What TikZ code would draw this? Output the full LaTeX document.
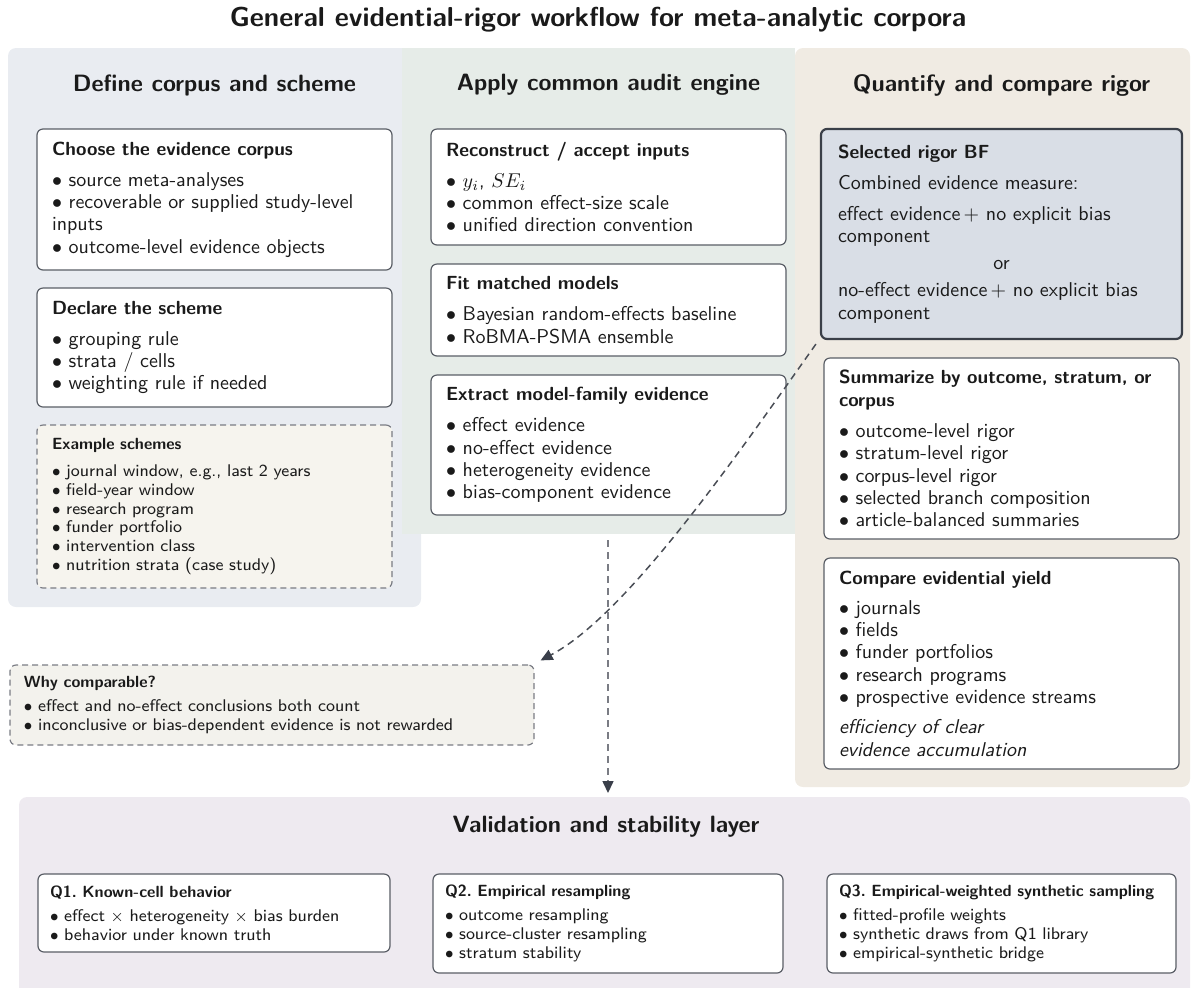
\documentclass[tikz,border=0pt]{standalone}
\usetikzlibrary{arrows.meta,calc}
\renewcommand\familydefault{\sfdefault}
\definecolor{leftbg}{HTML}{E9ECF1}
\definecolor{midbg}{HTML}{E6ECE8}
\definecolor{rightbg}{HTML}{F0EBE3}
\definecolor{botbg}{HTML}{EEEAF0}
\definecolor{boxline}{HTML}{5A5E66}
\definecolor{bfbg}{HTML}{D9DEE6}
\definecolor{bfline}{HTML}{3A3F48}
\definecolor{examplebg}{HTML}{F6F4EE}
\definecolor{whybg}{HTML}{F3F2ED}
\definecolor{dashgray}{HTML}{7A7C84}
\definecolor{dashdark}{HTML}{4A4E56}
\definecolor{arrowc}{HTML}{3A3F4A}
\definecolor{textc}{HTML}{1A1A1A}
\newcommand\bodyf{\fontsize{10}{11.15}\selectfont\frenchspacing}
\newcommand\smallf{\fontsize{8.45}{9.4}\selectfont\frenchspacing}
\newcommand\btf{\fontsize{9.5}{11.15}\selectfont\bfseries}
\newcommand\sbtf{\fontsize{8.1}{9.4}\selectfont\bfseries}
\newcommand\coltitlef{\fontsize{11.8}{13.5}\selectfont\bfseries}
\newcommand\maintitlef{\fontsize{13.7}{15}\selectfont\bfseries}
\newcommand\bul{$\bullet$\ }
\begin{document}
\begin{tikzpicture}[x=0.5pt,y=-0.5pt,
  panel/.style={draw=none, rounded corners=4pt, inner sep=0pt, outer sep=0pt},
  coltitle/.style={font=\coltitlef, text=textc, inner sep=0pt},
  box/.style={draw=boxline, fill=white, rounded corners=3pt, line width=0.6pt,
    inner xsep=7.5pt, inner ysep=0pt, align=left, font=\bodyf, text=textc, text width=162.5pt},
  notebox/.style={box, dashed, dash pattern=on 3pt off 2pt, draw=dashgray, font=\smallf},
  qbox/.style={box, font=\smallf, inner xsep=6pt},
  dasharrow/.style={line width=0.75pt, dash pattern=on 3.5pt off 2.5pt,
    -{Triangle[length=6pt,width=5.5pt,color=arrowc]}}
]
\useasboundingbox (0,0) rectangle (1198,987);

% panels
\node[panel, fill=leftbg, minimum width=206.5pt, minimum height=279.5pt] (leftp) at (214.5,327.5) {};
\node[panel, fill=rightbg, minimum width=197.5pt, minimum height=369.5pt] (rightp) at (992.5,417.5) {};
\node[panel, fill=midbg, rounded corners=0pt, minimum width=196.5pt, minimum height=243pt] (midp) at (598.5,291) {};
\node[panel, fill=botbg, minimum width=585.5pt, minimum height=101.5pt] (valp) at (604.5,898.5) {};

% titles
\node[font=\maintitlef, text=textc, inner sep=0pt] (title) at (598,20) {General evidential-rigor workflow for meta-analytic corpora};
\node[coltitle] (t1) at (214.5,85) {Define corpus and scheme};
\node[coltitle] (t2) at (608.5,85) {Apply common audit engine};
\node[coltitle] (t3) at (1001.5,85) {Quantify and compare rigor};
\node[coltitle] (t4) at (606,827) {Validation and stability layer};

% left column
\node[box, minimum height=70.5pt] (choose) at (214.5,199.5) {{\btf Choose the evidence corpus}\\[4.5pt]
\bul source meta-analyses\\
\bul recoverable or supplied study-level\\
inputs\\
\bul outcome-level evidence objects};
\node[box, minimum height=59.5pt] (declare) at (214.5,347.5) {{\btf Declare the scheme}\\[4.5pt]
\bul grouping rule\\
\bul strata / cells\\
\bul weighting rule if needed};
\node[notebox, fill=examplebg, minimum height=81.5pt] (example) at (214.5,506.5) {{\sbtf Example schemes}\\[4pt]
\bul journal window, e.g., last 2 years\\
\bul field-year window\\
\bul research program\\
\bul funder portfolio\\
\bul intervention class\\
\bul nutrition strata (case study)};

% middle column
\node[box, minimum height=58pt] (recon) at (608.5,187) {{\btf Reconstruct / accept inputs}\\[4.5pt]
\bul $y_i$, $SE_i$\\
\bul common effect-size scale\\
\bul unified direction convention};
\node[box, minimum height=46pt] (fit) at (608.5,310) {{\btf Fit matched models}\\[4.5pt]
\bul Bayesian random-effects baseline\\
\bul RoBMA-PSMA ensemble};
\node[box, minimum height=70pt] (extract) at (608.5,445) {{\btf Extract model-family evidence}\\[4.5pt]
\bul effect evidence\\
\bul no-effect evidence\\
\bul heterogeneity evidence\\
\bul bias-component evidence};

% right column
\node[box, fill=bfbg, draw=bfline, line width=1.1pt, inner xsep=8.5pt, text width=163.5pt, minimum height=105pt] (bf) at (1001.5,234) {{\btf Selected rigor BF}\\[4.5pt]
Combined evidence measure:\\[4pt]
effect evidence$\,+$ no explicit bias\\
component\\[2.5pt]
\makebox[163.5pt]{or}\\[2.5pt]
no-effect evidence$\,+$ no explicit bias\\
component};
\node[box, minimum height=90.5pt] (summ) at (1001.5,448.5) {\mbox{\btf Summarize by outcome, stratum, or}\\
{\btf corpus}\\[4.5pt]
\bul outcome-level rigor\\
\bul stratum-level rigor\\
\bul corpus-level rigor\\
\bul selected branch composition\\
\bul article-balanced summaries};
\node[box, minimum height=105.5pt] (compare) at (1001.5,663.5) {{\btf Compare evidential yield}\\[4pt]
\bul journals\\
\bul fields\\
\bul funder portfolios\\
\bul research programs\\
\bul prospective evidence streams\\[4pt]
\textit{efficiency of clear}\\
\textit{evidence accumulation}};

% why comparable
\node[notebox, fill=whybg, inner xsep=7pt, text width=248pt, minimum height=40pt] (why) at (272,705) {{\sbtf Why comparable?}\\[2.5pt]
\bul effect and no-effect conclusions both count\\
\bul inconclusive or bias-dependent evidence is not rewarded};

% validation boxes
\node[qbox, text width=164pt, minimum height=39pt] (q1) at (214,913) {{\sbtf Q1. Known-cell behavior}\\[2.5pt]
\bul effect $\times$ heterogeneity $\times$ bias burden\\
\bul behavior under known truth};
\node[qbox, text width=163pt, minimum height=49.5pt] (q2) at (608,923.5) {{\sbtf Q2. Empirical resampling}\\[2.5pt]
\bul outcome resampling\\
\bul source-cluster resampling\\
\bul stratum stability};
\node[qbox, text width=162.5pt, minimum height=49.5pt] (q3) at (1001.5,923.5) {\mbox{\sbtf Q3. Empirical-weighted synthetic sampling}\\[2.5pt]
\bul fitted-profile weights\\
\bul synthetic draws from Q1 library\\
\bul empirical-synthetic bridge};

% connectors
\draw[dasharrow, draw=dashdark] ([shift={(-4,4)}]bf.south west) .. controls +(-85,120) and +(85,-45) .. ([shift={(6,-4)}]why.north east);
\coordinate (vstart) at (608,540);
\draw[dasharrow, draw=dashgray, shorten >=2pt] (vstart) -- (vstart |- valp.north);
\end{tikzpicture}
\end{document}
